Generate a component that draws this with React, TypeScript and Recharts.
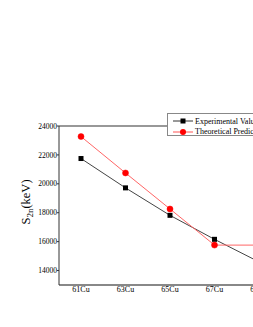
import { LineChart, Line, XAxis, YAxis, Legend, ReferenceLine } from 'recharts';

const isotopes = ['61Cu', '63Cu', '65Cu', '67Cu', '69Cu'];
const experimental = [21750, 19720, 17820, 16160, 14600];
const theoretical = [23270, 20750, 18260, 15760, 15760];
const yTicks = [14000, 16000, 18000, 20000, 22000, 24000];

const data = isotopes.map((name, i) => ({
  name,
  exp: experimental[i],
  theo: theoretical[i],
}));

const font = '"Liberation Serif", "DejaVu Serif", serif';

const SquareDot = (props: any) => {
  const { cx, cy, index } = props;
  if (cx == null || cy == null) return <g key={`sq-${index}`} />;
  return <rect key={`sq-${index}`} x={cx - 2.5} y={cy - 2.5} width={5} height={5} fill="#000" />;
};

const YLabel = () => (
  <text
    x={30}
    y={202}
    transform="rotate(-90 30 202)"
    textAnchor="middle"
    fontFamily={font}
    fontSize={12.5}
    fill="#000"
  >
    S<tspan fontSize={9} dy={3}>2n</tspan>
    <tspan dy={-3}>(keV)</tspan>
  </text>
);

const LegendBox = () => (
  <div
    style={{
      border: '1px solid #888',
      background: '#fff',
      width: 110,
      height: 23,
      paddingTop: 2,
      fontFamily: font,
      fontSize: 8,
      color: '#000',
      boxSizing: 'border-box',
    }}
  >
    {[
      { label: 'Experimental Value', color: '#333', square: true },
      { label: 'Theoretical Prediction', color: '#f55', square: false },
    ].map((e) => (
      <div key={e.label} style={{ display: 'flex', alignItems: 'center', height: 10.5, whiteSpace: 'nowrap' }}>
        <svg width={26} height={10} style={{ flex: 'none' }}>
          <line x1={5} x2={25} y1={5} y2={5} stroke={e.color} strokeWidth={1} />
          {e.square ? (
            <rect x={12.5} y={2.5} width={5} height={5} fill="#000" />
          ) : (
            <circle cx={15} cy={5} r={3} fill="#f00" />
          )}
        </svg>
        <span style={{ marginLeft: 1 }}>{e.label}</span>
      </div>
    ))}
  </div>
);

export default function App() {
  return (
    <div style={{ position: 'absolute', left: 0, top: 0, width: 253, height: 327, overflow: 'hidden', background: '#fff' }}>
      <LineChart width={281} height={327} data={data} margin={{ top: 103, right: 0, bottom: 12, left: 0 }}>
        <XAxis
          dataKey="name"
          height={30}
          padding={{ left: 22, right: 22 }}
          axisLine={{ stroke: '#888', strokeWidth: 2 }}
          tickLine={false}
          tickSize={0}
          tickMargin={1}
          tick={{ fontSize: 8, fill: '#000', fontFamily: font }}
        />
        <YAxis
          width={59}
          domain={[13000, 24000]}
          ticks={yTicks}
          allowDataOverflow
          axisLine={{ stroke: '#333', strokeWidth: 1 }}
          tickSize={2}
          tickLine={{ stroke: '#333' }}
          tickMargin={0}
          tick={{ fontSize: 7.5, fill: '#000', fontFamily: font }}
          label={<YLabel />}
        />
        <ReferenceLine y={24000} stroke="#333" strokeWidth={1.2} />
        <Legend
          verticalAlign="top"
          content={<LegendBox />}
          wrapperStyle={{ position: 'absolute', left: 167, top: 113, width: 110 }}
        />
        <Line
          dataKey="exp"
          stroke="#444"
          strokeWidth={1}
          dot={<SquareDot />}
          activeDot={false}
          isAnimationActive={false}
        />
        <Line
          dataKey="theo"
          stroke="#f66"
          strokeWidth={1}
          dot={{ r: 3, fill: '#f00', stroke: '#f00', strokeWidth: 0.5 }}
          activeDot={false}
          isAnimationActive={false}
        />
      </LineChart>
    </div>
  );
}
